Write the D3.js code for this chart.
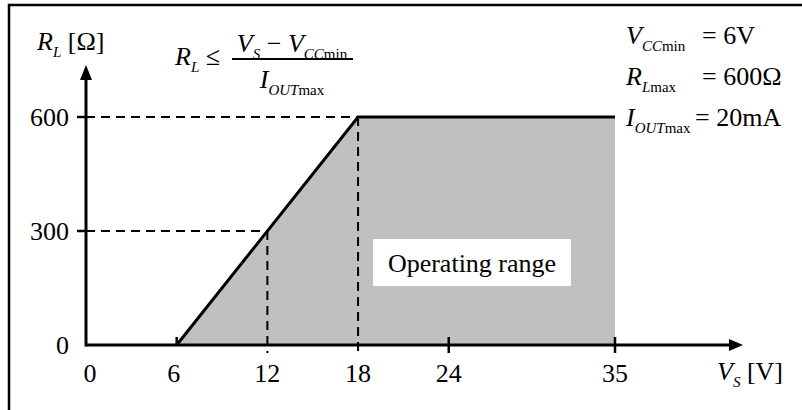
<!DOCTYPE html>
<html>
<head>
<meta charset="utf-8">
<script src="https://cdn.jsdelivr.net/npm/d3@7.9.0/dist/d3.min.js"></script>
<style>
  html, body { margin: 0; padding: 0; background: #fff; }
  svg { display: block; font-family: "Liberation Serif", "Times New Roman", serif; }
</style>
</head>
<body>
<div id="chart"></div>
<script>
// ---------- Data ----------
const boundaryVs = [6, 18, 35];        // V_S [V]
const boundaryRl = [0, 600, 600];      // R_L [Ω]
const xTickValues = [6, 12, 18, 24, 35];
const xLabelValues = [0, 6, 12, 18, 24, 35];
const yTickValues = [300, 600];
const yLabelValues = [0, 300, 600];
const guidePoints = [[12, 300], [18, 600]];
const params = [
  { sym: "V", sub: "CC", subUp: "min", value: "= 6V" },
  { sym: "R", sub: "L", subUp: "max", value: "= 600Ω" },
  { sym: "I", sub: "OUT", subUp: "max", value: "= 20mA" }
];

const width = 802, height = 410;
const fs = 26, subFs = 15;

const svg = d3.select("#chart")
  .append("svg")
  .attr("width", width)
  .attr("height", height);

// frame (right and bottom edges are cropped off)
svg.append("rect")
  .attr("x", 9).attr("y", 5)
  .attr("width", 820).attr("height", 430)
  .attr("fill", "none")
  .attr("stroke", "#000")
  .attr("stroke-width", 2.5);

const x = d3.scaleLinear().domain([0, 35]).range([86, 615]);
const y = d3.scaleLinear().domain([0, 600]).range([345, 117]);

// ---------- Operating area ----------
const area = [[boundaryVs[0], 0], ...boundaryVs.map((v, i) => [v, boundaryRl[i]]), [35, 0]];
svg.append("path")
  .attr("d", d3.line().x(d => x(d[0])).y(d => y(d[1]))(area) + "Z")
  .attr("fill", "#c0c0c0");

// dashed guides
const dashG = svg.append("g")
  .attr("stroke", "#000")
  .attr("stroke-width", 2)
  .attr("stroke-dasharray", "9,6");
guidePoints.forEach(([vs, rl]) => {
  dashG.append("line")
    .attr("x1", x(0)).attr("x2", x(vs))
    .attr("y1", y(rl)).attr("y2", y(rl));
  dashG.append("line")
    .attr("x1", x(vs)).attr("x2", x(vs))
    .attr("y1", y(rl)).attr("y2", y(0) + 8);
});

// boundary
svg.append("path")
  .attr("d", d3.line().x(d => x(d)).y((d, i) => y(boundaryRl[i]))(boundaryVs))
  .attr("fill", "none")
  .attr("stroke", "#000")
  .attr("stroke-width", 3);

// ---------- Axes ----------
const axisG = svg.append("g").attr("stroke", "#000").attr("stroke-width", 3);
axisG.append("line")
  .attr("x1", x(0)).attr("x2", 732)
  .attr("y1", y(0)).attr("y2", y(0));
axisG.append("line")
  .attr("x1", x(0)).attr("x2", x(0))
  .attr("y1", y(0) + 1.5).attr("y2", 78);

svg.append("path")
  .attr("d", `M743,${y(0)} L729,${y(0) - 6} L729,${y(0) + 6} Z`)
  .attr("fill", "#000");
svg.append("path")
  .attr("d", `M${x(0)},65 L${x(0) - 6},80 L${x(0) + 6},80 Z`)
  .attr("fill", "#000");

const tickG = svg.append("g").attr("stroke", "#000").attr("stroke-width", 2.5);
tickG.selectAll("line.xt")
  .data(xTickValues.filter(d => d !== 12 && d !== 18))
  .join("line")
  .attr("x1", d => x(d)).attr("x2", d => x(d))
  .attr("y1", y(0) - 8)
  .attr("y2", d => d === 6 ? y(0) : y(0) + 8);
tickG.selectAll("line.yt")
  .data(yTickValues)
  .join("line")
  .attr("x1", x(0) - 9).attr("x2", x(0))
  .attr("y1", d => y(d)).attr("y2", d => y(d));

svg.append("g")
  .selectAll("text")
  .data(xLabelValues)
  .join("text")
  .attr("x", d => x(d) + (d === 0 ? 4 : d === 6 ? -3 : 0))
  .attr("y", 382)
  .attr("text-anchor", "middle")
  .attr("font-size", fs)
  .text(d => d);

svg.append("g")
  .selectAll("text")
  .data(yLabelValues)
  .join("text")
  .attr("x", 69)
  .attr("y", d => y(d) + 9)
  .attr("text-anchor", "end")
  .attr("font-size", fs)
  .text(d => d);

// ---------- Math-ish labels ----------
function mathText(parent, px, py, parts, anchor) {
  const t = parent.append("text")
    .attr("x", px).attr("y", py)
    .attr("font-size", fs)
    .attr("text-anchor", anchor || "start");
  let shifted = false;
  parts.forEach(p => {
    const s = t.append("tspan").text(p.t);
    if (p.i) s.attr("font-style", "italic");
    if (p.sub) {
      s.attr("font-size", subFs);
      if (!shifted) { s.attr("dy", 7); shifted = true; }
    } else if (shifted) {
      s.attr("dy", -7); shifted = false;
    }
  });
  return t;
}

mathText(svg, 37, 50, [
  { t: "R", i: true }, { t: "L", i: true, sub: true }, { t: " [Ω]" }
]);

mathText(svg, 175, 65, [
  { t: "R", i: true }, { t: "L", i: true, sub: true }, { t: " ≤" }
]);
mathText(svg, 292, 52, [
  { t: "V", i: true }, { t: "S", i: true, sub: true }, { t: " − " },
  { t: "V", i: true }, { t: "CC", i: true, sub: true }, { t: "min", sub: true }
], "middle");
svg.append("line")
  .attr("x1", 232).attr("x2", 353)
  .attr("y1", 59).attr("y2", 59)
  .attr("stroke", "#000").attr("stroke-width", 2);
mathText(svg, 292, 88, [
  { t: "I", i: true }, { t: "OUT", i: true, sub: true }, { t: "max", sub: true }
], "middle");

params.forEach((p, k) => {
  const by = 44 + k * 41;
  mathText(svg, 626, by, [
    { t: p.sym, i: true }, { t: p.sub, i: true, sub: true }, { t: p.subUp, sub: true }
  ]);
  svg.append("text")
    .attr("x", k === 2 ? 695 : 702)
    .attr("y", by)
    .attr("font-size", fs)
    .text(p.value);
});

mathText(svg, 717, 380, [
  { t: "V", i: true }, { t: "S", i: true, sub: true }, { t: " [V]" }
]);

// ---------- Operating range label ----------
svg.append("rect")
  .attr("x", 373).attr("y", 239)
  .attr("width", 198).attr("height", 47)
  .attr("fill", "#fff");
svg.append("text")
  .attr("x", 472).attr("y", 272)
  .attr("text-anchor", "middle")
  .attr("font-size", fs)
  .text("Operating range");
</script>
</body>
</html>
